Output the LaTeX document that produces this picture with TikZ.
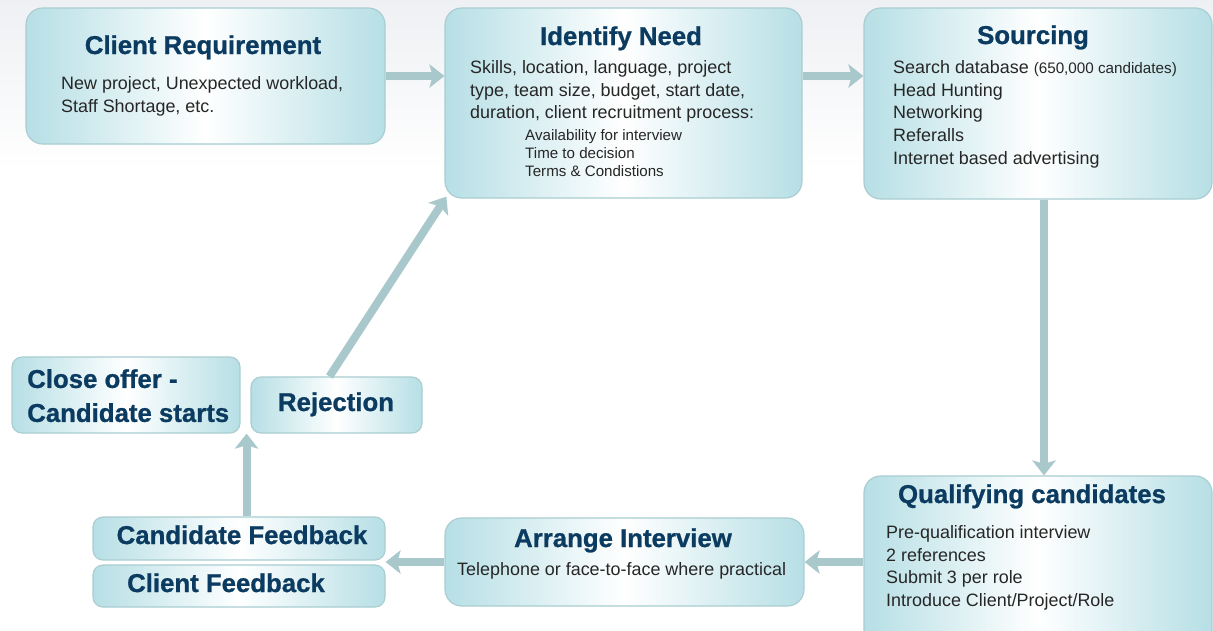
\documentclass[tikz,border=0pt]{standalone}
\usepackage{fontspec}
\setmainfont{Liberation Sans}
\newfontfamily\titlefont{Liberation Sans Bold}[FakeBold=0.9]
\usepackage{color}
\usetikzlibrary{arrows.meta, fit, calc}
\definecolor{boxblue}{HTML}{B6DFE5}
\definecolor{boxline}{HTML}{A9CDD1}
\definecolor{arrowgrey}{HTML}{A9C8CB}
\definecolor{titleblue}{HTML}{0B3B60}
\definecolor{textgrey}{HTML}{262626}
\definecolor{bgtop}{HTML}{EEF0F3}
\tikzstyle{box} = [draw=boxline, line width=1pt, rounded corners=0.5cm, left color=boxblue, right color=boxblue, middle color=white, inner sep=0pt]
\tikzstyle{smallbox} = [box, rounded corners=0.3cm]
\tikzstyle{title} = [font=\fontsize{22}{29}\titlefont, text=titleblue, inner sep=0pt]
\tikzstyle{body} = [font=\fontsize{15.3}{19.5}\selectfont, text=textgrey, align=left, inner sep=0pt, anchor=north west]
\tikzstyle{small} = [body, font=\fontsize{12.9}{15.4}\selectfont]
\tikzstyle{arrow} = [line width=0.24cm, draw=arrowgrey, -{Stealth[length=0.45cm,width=0.7cm,inset=0.1cm]}]

\begin{document}
\begin{tikzpicture}[x=0.03cm, y=-0.03cm]
\useasboundingbox (0,0) rectangle (1213,630);
\shade[top color=bgtop, bottom color=white] (0,0) rectangle (1213,170);

% boxes
\node[box, fit={(26,8) (385,144)}] (req) {};
\node[box, fit={(445,8) (802,198)}] (need) {};
\node[box, fit={(864,8) (1212,199)}] (src) {};
\node[box, fit={(864,476) (1212,660)}] (qual) {};
\node[box, fit={(445,518) (804,606)}] (arr) {};
\node[smallbox, fit={(93,517) (385,560)}] (candfb) {};
\node[smallbox, fit={(93,565) (385,607)}] (clifb) {};
\node[smallbox, fit={(12,357) (240,433)}] (offer) {};
\node[smallbox, fit={(251,377) (422,433)}] (rej) {};

% titles
\node[title, anchor=base] (reqT) at (203,54) {Client Requirement};
\node[title, anchor=base] (needT) at (621,45) {Identify Need};
\node[title, anchor=base] (srcT) at (1033,44) {Sourcing};
\node[title, anchor=base] (qualT) at (1032,503) {Qualifying candidates};
\node[title, anchor=base] (arrT) at (623,547) {Arrange Interview};
\node[title, anchor=base] (candfbT) at (242,544) {Candidate Feedback};
\node[title, anchor=base] (clifbT) at (226,592) {Client Feedback};
\node[title, align=left, anchor=north west] (offerT) at (27,369) {Close offer -\\Candidate starts};
\node[title, anchor=base] (rejT) at (336,411) {Rejection};

% text
\node[body] (reqB) at (61,76) {New project, Unexpected workload,\\Staff Shortage, etc.};
\node[body] (needB) at (470,60) {Skills, location, language, project\\type, team size, budget, start date,\\duration, client recruitment process:};
\node[small] (needS) at (525,129) {Availability for interview\\Time to decision\\Terms \& Condistions};
\node[body] (srcB) at (893,60) {Search database {\fontsize{13}{19.5}\selectfont(650,000 candidates)}\\Head Hunting\\Networking\\Referalls\\Internet based advertising};
\node[body] (qualB) at (886,525) {Pre-qualification interview\\2 references\\Submit 3 per role\\Introduce Client/Project/Role};
\node[body] (arrB) at (457,562) {Telephone or face-to-face where practical};

% arrows
\coordinate (srcOut) at ($(src.south)+(6,0)$);
\coordinate (offerIn) at ($(offer.south east)+(6,0)$);
\coordinate (rejOut) at ($(rej.north)+(-7,0)$);
\coordinate (needIn) at ($(need.south west)+(2,-2)$);
\draw[arrow] (req.east) -- (req.east -| need.west);
\draw[arrow] (req.east -| need.east) -- (req.east -| src.west);
\draw[arrow] (srcOut) -- (srcOut |- qual.north);
\draw[arrow] (qual.west |- arr.east) -- (arr.east);
\draw[arrow] (arr.west) -- (arr.west -| candfb.east);
\draw[arrow] (offerIn |- candfb.north) -- (offerIn);
\draw[arrow] (rejOut) -- (needIn);

\end{tikzpicture}
\end{document}
